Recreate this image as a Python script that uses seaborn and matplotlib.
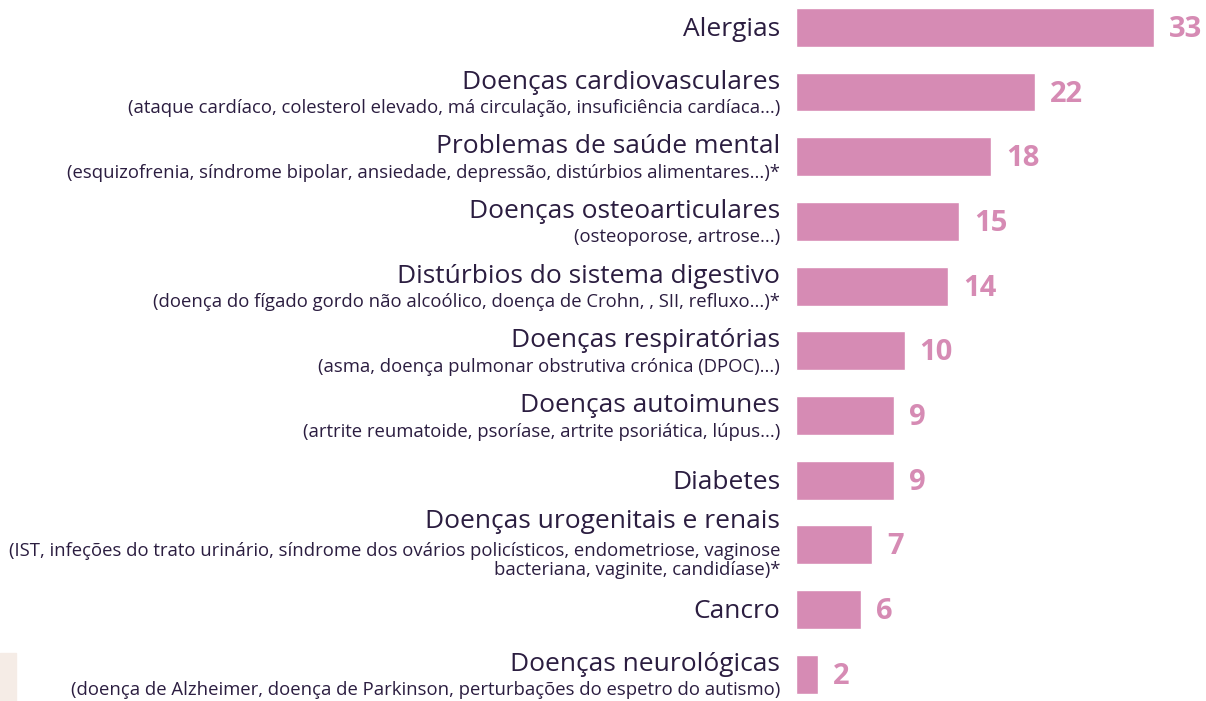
import matplotlib
matplotlib.use("Agg")
import matplotlib.pyplot as plt
import matplotlib.transforms as mtransforms
import seaborn as sns
import pandas as pd

sns.set_theme(style="white")
plt.rcParams["font.family"] = ["Open Sans", "DejaVu Sans"]

categories = [
    "Alergias",
    "Doenças cardiovasculares",
    "Problemas de saúde mental",
    "Doenças osteoarticulares",
    "Distúrbios do sistema digestivo",
    "Doenças respiratórias",
    "Doenças autoimunes",
    "Diabetes",
    "Doenças urogenitais e renais",
    "Cancro",
    "Doenças neurológicas",
]
details = [
    [],
    ["(ataque cardíaco, colesterol elevado, má circulação, insuficiência cardíaca...)"],
    ["(esquizofrenia, síndrome bipolar, ansiedade, depressão, distúrbios alimentares...)*"],
    ["(osteoporose, artrose...)"],
    ["(doença do fígado gordo não alcoólico, doença de Crohn, , SII, refluxo...)*"],
    ["(asma, doença pulmonar obstrutiva crónica (DPOC)...)"],
    ["(artrite reumatoide, psoríase, artrite psoriática, lúpus...)"],
    [],
    ["(IST, infeções do trato urinário, síndrome dos ovários policísticos, endometriose, vaginose",
     "bacteriana, vaginite, candidíase)*"],
    [],
    ["(doença de Alzheimer, doença de Parkinson, perturbações do espetro do autismo)"],
]
values = [33, 22, 18, 15, 14, 10, 9, 9, 7, 6, 2]

BAR = "#d68bb4"
INK = "#2b1d40"

df = pd.DataFrame({"categoria": categories, "valor": values})

W, H = 1206, 701
fig = plt.figure(figsize=(W / 100, H / 100), dpi=100)
ax = fig.add_axes([796 / W, 0, 1 - 796 / W, 1])

sns.barplot(data=df, y="categoria", x="valor", orient="h", color=BAR,
            saturation=1, width=0.6, ax=ax)

step = 64.7
top = 27.3
ax.set_ylim((H - top) / step, -top / step)
ax.set_xlim(0, (W - 796) / 10.85)
ax.axis("off")

label_x = 780 / W
blend = mtransforms.blended_transform_factory(fig.transFigure, ax.transData)

for i, (cat, sub, v) in enumerate(zip(categories, details, values)):
    n = len(sub)
    if n == 0:
        offs_main = 2
    elif n == 1:
        offs_main = -10
    else:
        offs_main = -23
    tr = mtransforms.offset_copy(blend, fig=fig, x=0, y=-offs_main, units="dots")
    ax.text(label_x, i, cat, transform=tr, ha="right", va="center",
            fontsize=19, color=INK)
    for j, line in enumerate(sub):
        off = (16 if n == 1 else 6 + 19.5 * j)
        tr2 = mtransforms.offset_copy(blend, fig=fig, x=0, y=-off, units="dots")
        ax.text(label_x, i, line, transform=tr2, ha="right", va="center",
                fontsize=13.3, color=INK)
    trv = mtransforms.offset_copy(ax.transData, fig=fig, x=15, y=-2, units="dots")
    ax.text(v, i, str(v), transform=trv, ha="left", va="center",
            fontsize=21, fontweight="bold", color=BAR)

# decorative corner block
fig.patches.append(plt.Rectangle((0, 0), 16 / W, 48 / H, transform=fig.transFigure,
                                 color="#f5ece6", zorder=0))

fig.savefig("out.png", dpi=100)
